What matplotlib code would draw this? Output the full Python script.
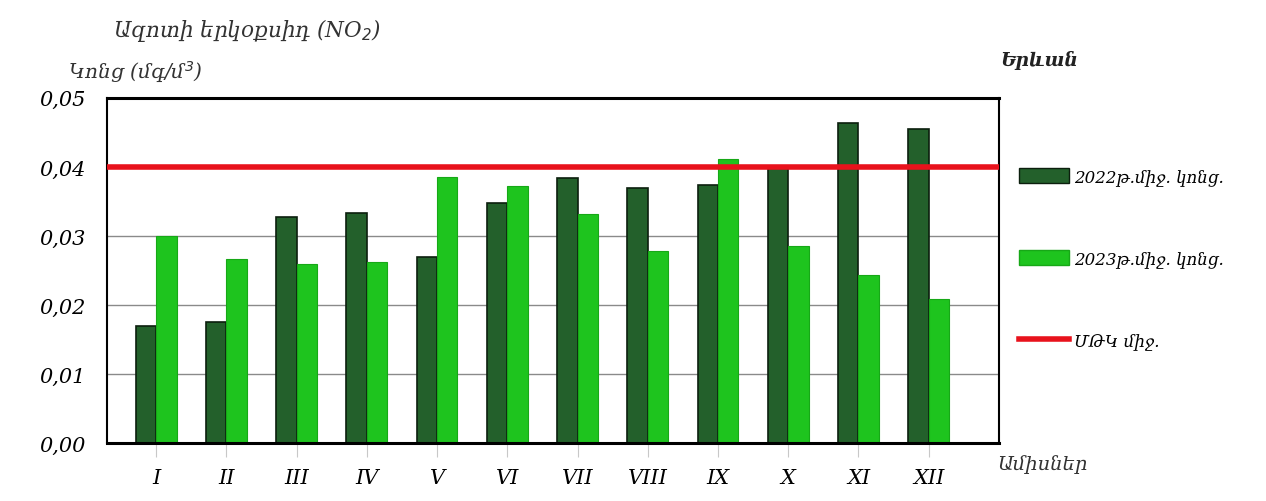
import matplotlib.pyplot as plt
import numpy as np
from matplotlib.lines import Line2D
from matplotlib.patches import Patch

plt.rcParams.update({'font.family': ['DejaVu Serif', 'DejaVu Sans'], 'font.style': 'italic'})

months = ['I', 'II', 'III', 'IV', 'V', 'VI', 'VII', 'VIII', 'IX', 'X', 'XI', 'XII']
avg_2022 = [0.0170, 0.0176, 0.0328, 0.0333, 0.0269, 0.0348, 0.0384, 0.0370, 0.0374, 0.0402, 0.0463, 0.0455]
avg_2023 = [0.0300, 0.0267, 0.0259, 0.0262, 0.0385, 0.0372, 0.0332, 0.0278, 0.0411, 0.0286, 0.0243, 0.0208]
limit = 0.04

x = np.arange(len(months))
w = 0.29

fig = plt.figure(figsize=(12.66, 5.02), dpi=100)
ax = fig.add_axes([0.0845, 0.1155, 0.7045, 0.6875])

ax.set_ylim(0, 0.05)
ax.set_xlim(-0.7, 12.0)
ax.set_yticks([0, 0.01, 0.02, 0.03, 0.04, 0.05])
ax.set_yticklabels(['{:.2f}'.format(v).replace('.', ',') for v in ax.get_yticks()], fontsize=15)
ax.yaxis.grid(True, color='#8a8a8a', linewidth=1)
ax.set_axisbelow(True)
ax.tick_params(axis='y', length=0, pad=15)

ax.bar(x - w / 2, avg_2022, w, color='#23602b', edgecolor='#0c1f0e', linewidth=1.2)
ax.bar(x + w / 2, avg_2023, w, color='#1ec41e', edgecolor='#17a817', linewidth=0.8)
ax.axhline(limit, color='#e8121c', linewidth=4, zorder=5)

ax.set_xticks(x)
ax.set_xticklabels(months, fontsize=15)
ax.tick_params(axis='x', length=10, color='#c8c8c8', pad=8, labelsize=15)

for s in ax.spines.values():
    s.set_linewidth(1.5)
    s.set_color('black')
ax.spines['top'].set_linewidth(2.2)
ax.spines['bottom'].set_linewidth(2.2)

fig.text(0.089, 0.94, 'Ազոտի երկօքսիդ (NO$_2$)', fontsize=15.5, ha='left', va='center', color='#333333')
fig.text(0.054, 0.857, 'Կոնց (մգ/մ$^3$)', fontsize=14.5, ha='left', va='center', color='#333333')
fig.text(0.79, 0.88, 'Երևան', fontsize=13.5, fontweight='bold', ha='left', va='center', color='#222222')
fig.text(0.788, 0.075, 'Ամիսներ', fontsize=14, ha='left', va='center', color='#333333')

handles = [Patch(facecolor='#23602b', edgecolor='#0c1f0e'),
           Patch(facecolor='#1ec41e', edgecolor='#17a817'),
           Line2D([0], [0], color='#e8121c', linewidth=4)]
labels = ['2022թ.միջ. կոնց.', '2023թ.միջ. կոնց.', 'ՄԹԿ միջ.']
fig.legend(handles, labels, loc='upper left', bbox_to_anchor=(0.793, 0.694), frameon=False,
           fontsize=12, handlelength=3.0, handleheight=1.0, labelspacing=3.9, handletextpad=0.3)

plt.savefig('out.png', dpi=100)
